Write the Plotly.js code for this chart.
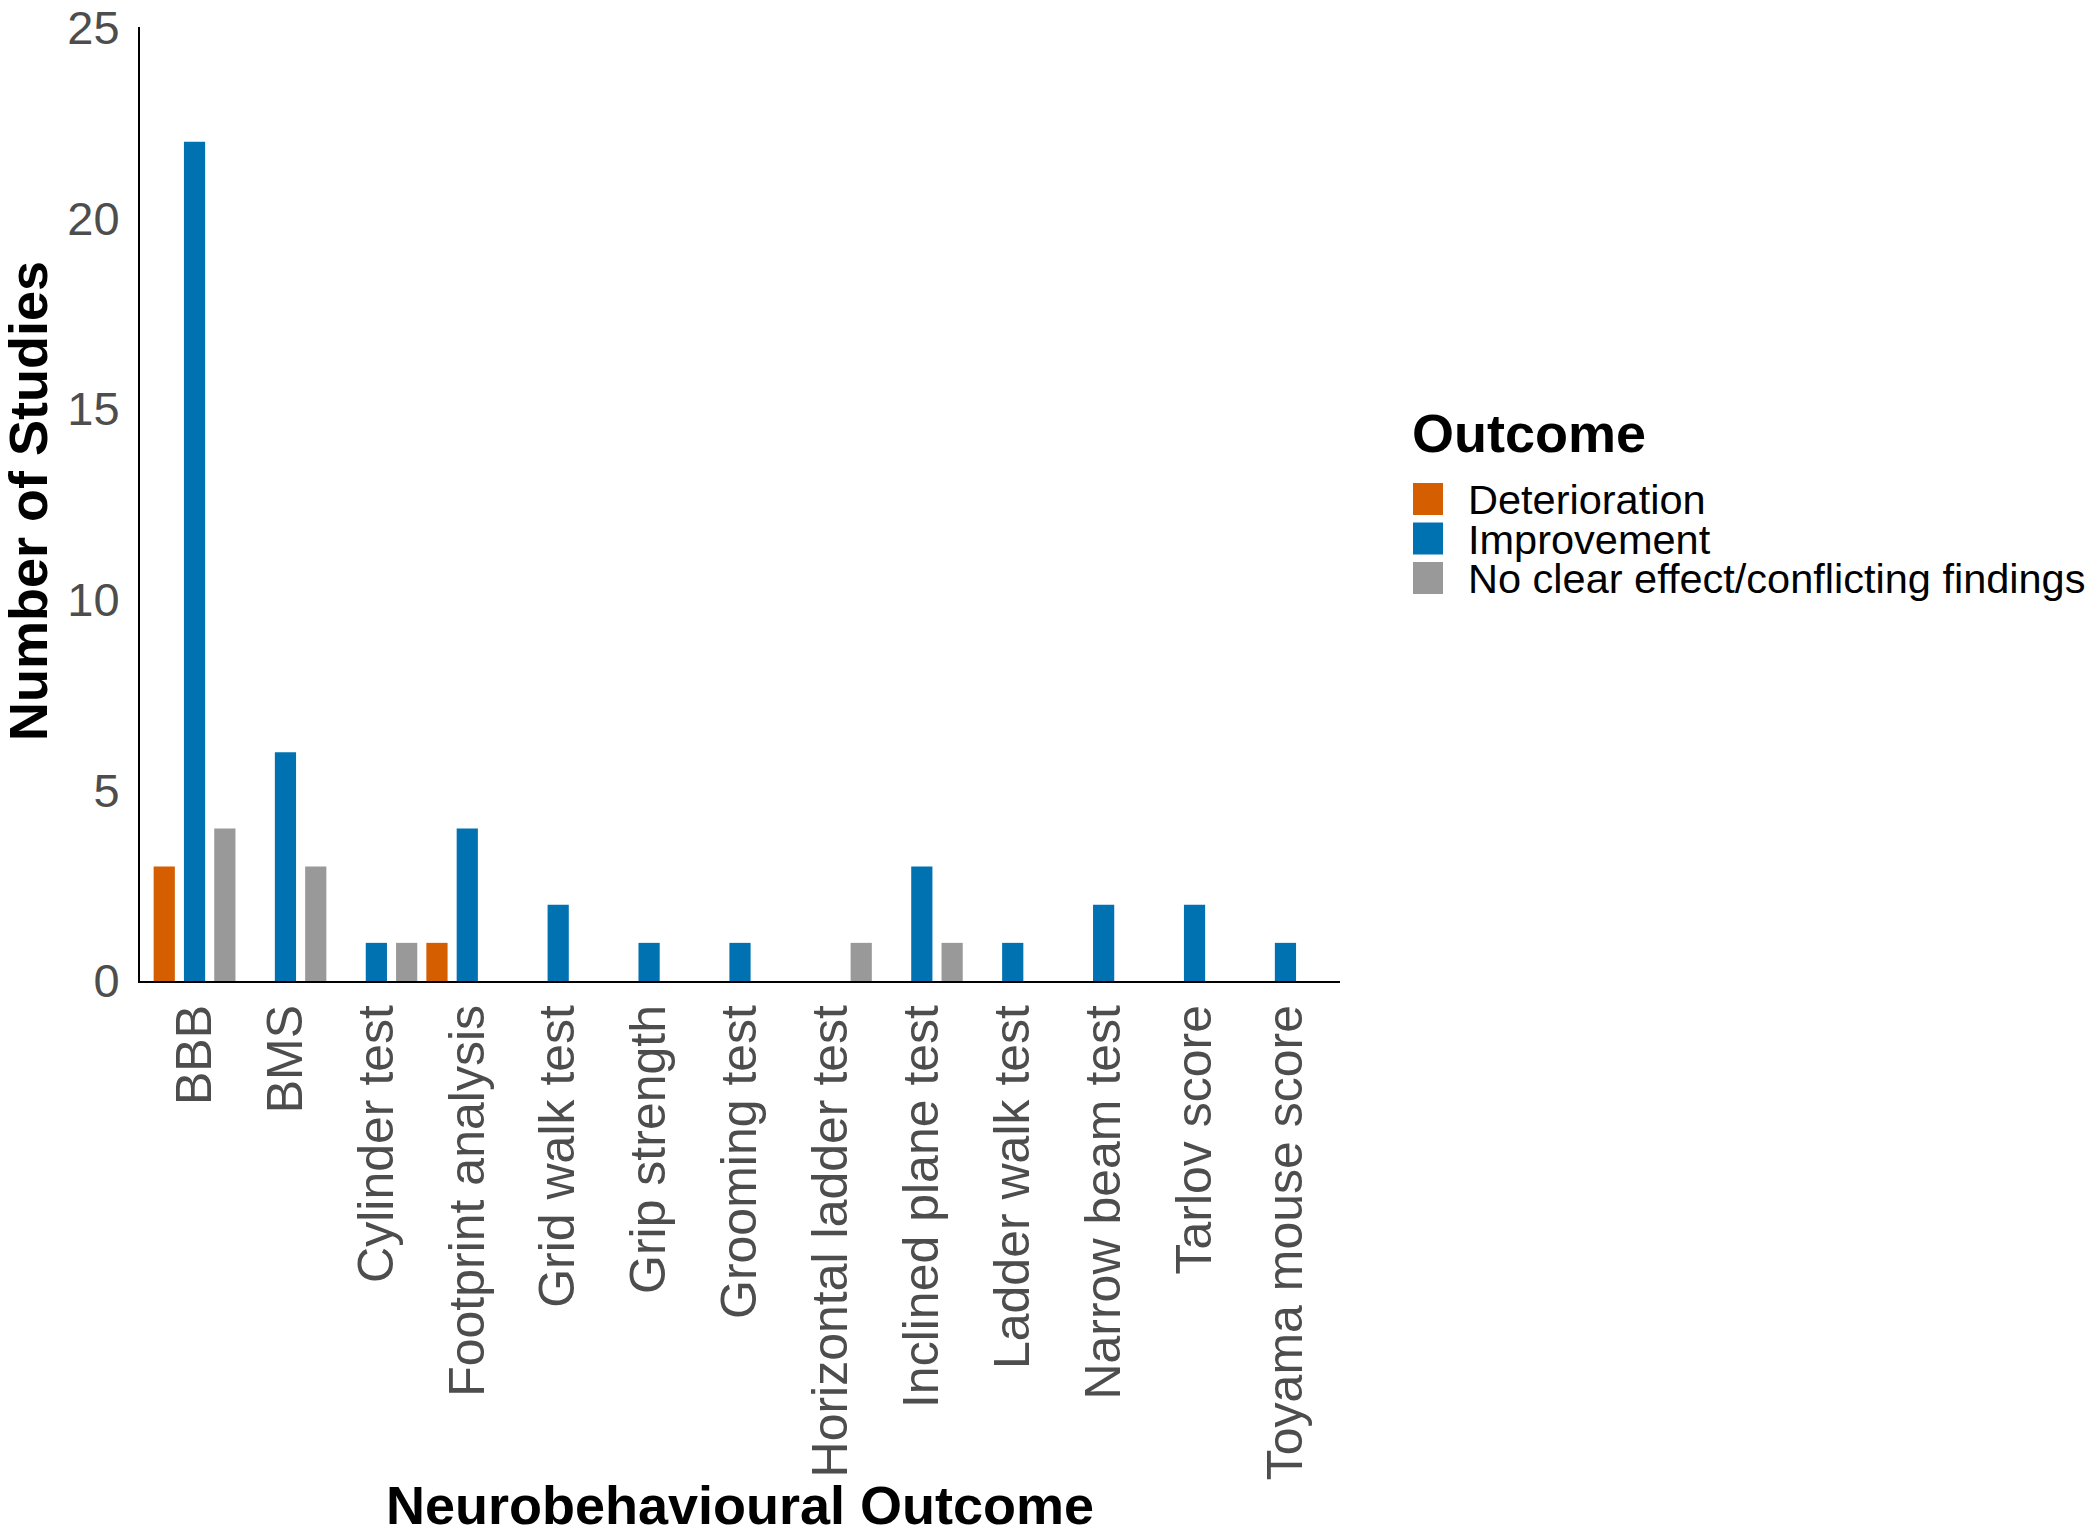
<!DOCTYPE html>
<html>
<head>
<meta charset="utf-8">
<script src="https://cdn.plot.ly/plotly-3.0.1.min.js"></script>
<style>html,body{margin:0;padding:0;background:#fff;}#chart{width:2090px;height:1535px;}</style>
</head>
<body>
<div id="chart"></div>
<script>
const categories = ['BBB','BMS','Cylinder test','Footprint analysis','Grid walk test','Grip strength','Grooming test','Horizontal ladder test','Inclined plane test','Ladder walk test','Narrow beam test','Tarlov score','Toyama mouse score'];
const seriesNames = ['Deterioration','Improvement','No clear effect/conflicting findings'];
const deterioration = [3,0,0,1,0,0,0,0,0,0,0,0,0];
const improvement   = [22,6,1,4,2,1,1,0,3,1,2,2,1];
const noClearEffect = [4,3,1,0,0,0,0,1,1,0,0,0,0];
const seriesColors = ['#D55E00','#0072B2','#999999'];
const yTickValues = [0,5,10,15,20,25];
const legendTitle = 'Outcome';
const xTitle = 'Neurobehavioural Outcome';
const yTitle = 'Number of Studies';

const seriesValues = [deterioration, improvement, noClearEffect];
const FONT = 'Liberation Sans, Arial, Helvetica, sans-serif';

const W = 2090, H = 1535;
const M = {l:140, r:750, t:27, b:554};
const PW = W - M.l - M.r, PH = H - M.t - M.b;
const px2x = px => (px - M.l) / PW;
const px2y = py => (H - M.b - py) / PH;

const traces = seriesNames.map((name, i) => ({
  type: 'bar',
  name: name,
  x: categories,
  y: seriesValues[i],
  marker: {color: seriesColors[i], line: {width: 0}},
  showlegend: false,
  hoverinfo: 'x+y+name'
}));

const shapes = [];
const annotations = [];
// y axis title (placed as rotated text so it can sit close to the page edge)
annotations.push({
  xref: 'paper', yref: 'paper', x: px2x(28), y: px2y(501),
  xanchor: 'center', yanchor: 'middle', textangle: -90, showarrow: false,
  text: yTitle,
  font: {family: FONT, size: 54, color: '#000', weight: 700}
});
// legend drawn as layout items (ggplot-style compact keys)
annotations.push({
  xref: 'paper', yref: 'paper', x: px2x(1410), y: px2y(433),
  xanchor: 'left', yanchor: 'middle', showarrow: false,
  text: legendTitle,
  font: {family: FONT, size: 54, color: '#000', weight: 700}
});
const keyTop0 = 483, keyStep = 39.5, keyH = 32, keyX0 = 1413, keyX1 = 1443;
seriesNames.forEach((name, i) => {
  const top = keyTop0 + i * keyStep;
  shapes.push({
    type: 'rect', xref: 'paper', yref: 'paper',
    x0: px2x(keyX0), x1: px2x(keyX1), y0: px2y(top + keyH), y1: px2y(top),
    fillcolor: seriesColors[i], line: {width: 0}
  });
});
annotations.push({
  xref: 'paper', yref: 'paper', x: px2x(1466), y: px2y(keyTop0 + keyStep + keyH / 2),
  xanchor: 'left', yanchor: 'middle', align: 'left', showarrow: false,
  text: seriesNames.map(n => '<span style="font-size:41.5px">' + n + '</span>').join('<br>'),
  font: {family: FONT, size: keyStep / 1.3, color: '#000'}
});

const layout = {
  width: W, height: H,
  margin: {l: M.l, r: M.r, t: M.t, b: M.b, pad: 0},
  paper_bgcolor: '#fff', plot_bgcolor: '#fff',
  font: {family: FONT, color: '#4D4D4D'},
  barmode: 'group', bargap: 0, bargroupgap: 0.3,
  showlegend: false,
  xaxis: {
    type: 'category', range: [-0.6, categories.length - 0.4],
    showline: true, linecolor: '#000', linewidth: 2,
    showgrid: false, zeroline: false, ticks: '',
    tickangle: -90, ticklabelstandoff: 2,
    tickfont: {family: FONT, size: 50, color: '#4D4D4D'},
    title: {text: xTitle, standoff: 12, font: {family: FONT, size: 54, color: '#000', weight: 700}},
    fixedrange: true
  },
  yaxis: {
    range: [0, 25.01], tickvals: yTickValues, ticktext: yTickValues.map(String),
    showline: true, linecolor: '#000', linewidth: 2,
    showgrid: false, zeroline: false, ticks: '',
    ticklabelstandoff: 9, ticklabeloverflow: 'allow',
    tickfont: {family: FONT, size: 47, color: '#4D4D4D'},
    fixedrange: true
  },
  shapes: shapes,
  annotations: annotations
};

Plotly.newPlot('chart', traces, layout, {displayModeBar: false, staticPlot: true});
</script>
</body>
</html>
